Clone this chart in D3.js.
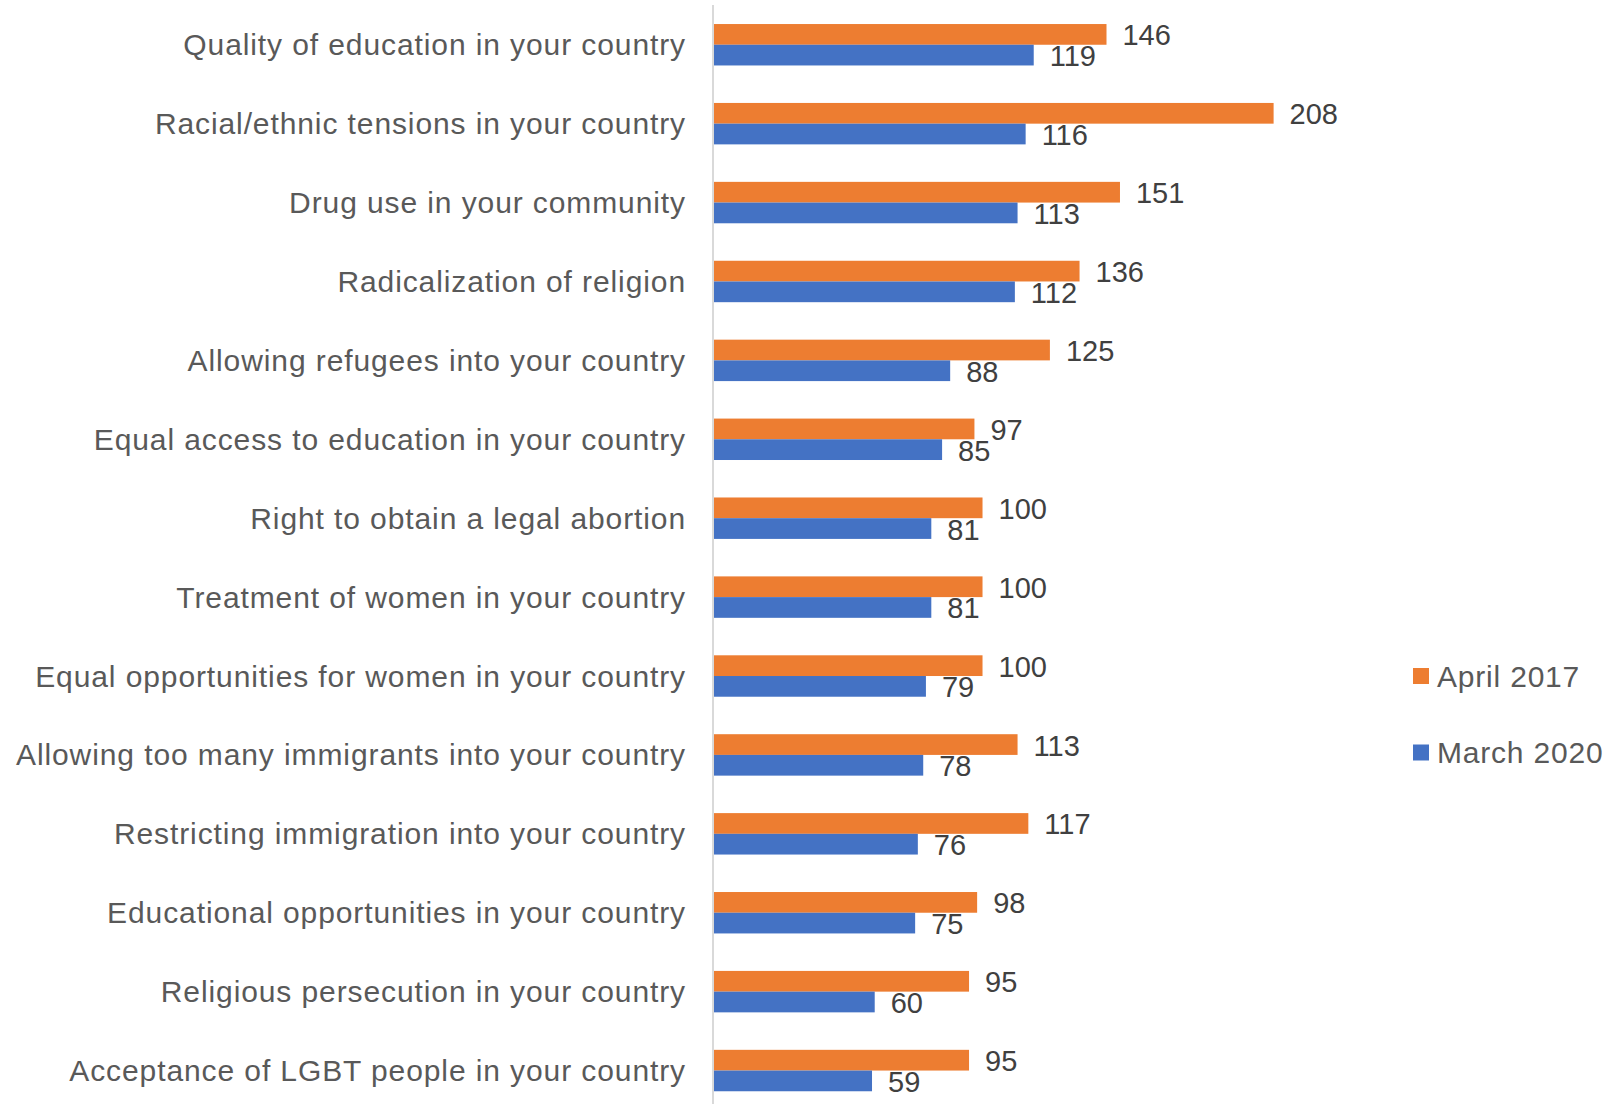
<!DOCTYPE html>
<html>
<head>
<meta charset="utf-8">
<script src="https://cdn.jsdelivr.net/npm/d3@7"></script>
<style>
  html, body { margin: 0; padding: 0; background: #fff; }
  svg { display: block; font-family: "Liberation Sans", Arial, sans-serif; }
</style>
</head>
<body>
<svg id="chart" width="1620" height="1104"></svg>
<script>
// Issues, top to bottom
const categories = [
  "Quality of education in your country",
  "Racial/ethnic tensions in your country",
  "Drug use in your community",
  "Radicalization of religion",
  "Allowing refugees into your country",
  "Equal access to education in your country",
  "Right to obtain a legal abortion",
  "Treatment of women in your country",
  "Equal opportunities for women in your country",
  "Allowing too many immigrants into your country",
  "Restricting immigration into your country",
  "Educational opportunities in your country",
  "Religious persecution in your country",
  "Acceptance of LGBT people in your country"
];
const april2017 = [146, 208, 151, 136, 125, 97, 100, 100, 100, 113, 117, 98, 95, 95];
const march2020 = [119, 116, 113, 112, 88, 85, 81, 81, 79, 78, 76, 75, 60, 59];
const seriesNames = ["April 2017", "March 2020"];
const seriesColors = ["#ED7D31", "#4472C4"];

const svg = d3.select("#chart");
const x0 = 713;
const x = d3.scaleLinear().domain([0, 208]).range([x0, x0 + 560.6]);
const y = d3.scaleBand().domain(categories).range([5.3, 1110]).paddingInner(0.475).paddingOuter(0.2375);
const sub = d3.scaleBand().domain(seriesNames).range([0, y.bandwidth()]);

const rows = categories.map((c, i) => ({ c, vals: [april2017[i], march2020[i]] }));

// Category labels
svg.append("g").selectAll("text").data(categories).join("text")
  .attr("x", 686)
  .attr("y", d => y(d) + y.bandwidth() / 2)
  .attr("text-anchor", "end")
  .attr("dominant-baseline", "central")
  .attr("fill", "#595959")
  .style("font-size", "30px")
  .style("letter-spacing", "0.9px")
  .text(d => d);

// Bars
const g = svg.append("g");
rows.forEach(r => {
  r.vals.forEach((v, k) => {
    const yy = y(r.c) + sub(seriesNames[k]);
    g.append("rect")
      .attr("x", x(0))
      .attr("y", yy)
      .attr("width", x(v) - x(0))
      .attr("height", sub.bandwidth())
      .attr("fill", seriesColors[k]);
    g.append("text")
      .attr("x", x(v) + 16)
      .attr("y", yy + sub.bandwidth() / 2 + 1)
      .attr("dominant-baseline", "central")
      .attr("fill", "#404040")
      .style("font-size", "29px")
      .text(v);
  });
});

// Vertical category axis line
svg.append("line")
  .attr("x1", x0).attr("x2", x0)
  .attr("y1", 5).attr("y2", 1104)
  .attr("stroke", "#D9D9D9").attr("stroke-width", 2);

// Legend
const legend = svg.append("g");
const legendY = [676, 752.5];
seriesNames.forEach((n, k) => {
  legend.append("rect")
    .attr("x", 1413).attr("y", legendY[k] - 8)
    .attr("width", 16).attr("height", 16)
    .attr("fill", seriesColors[k]);
  legend.append("text")
    .attr("x", 1437).attr("y", legendY[k])
    .attr("dominant-baseline", "central")
    .attr("fill", "#595959")
    .style("font-size", "30px")
    .style("letter-spacing", "0.8px")
    .text(n);
});
</script>
</body>
</html>
